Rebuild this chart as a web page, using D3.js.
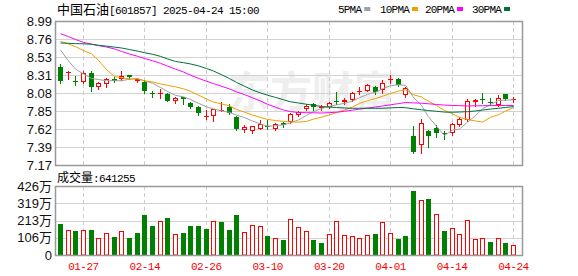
<!DOCTYPE html>
<html>
<head>
<meta charset="utf-8">
<script src="https://cdn.jsdelivr.net/npm/d3@7"></script>
<style>
body { margin: 0; background: #fff; }
svg { display: block; }
</style>
</head>
<body>
<div id="chart"></div>
<script>
// trading days shown (60 candles)
var dates = ["01-22","01-23","01-24","01-27","02-05","02-06","02-07","02-10","02-11","02-12",
    "02-13","02-14","02-17","02-18","02-19","02-20","02-21","02-24","02-25","02-26",
    "02-27","02-28","03-03","03-04","03-05","03-06","03-07","03-10","03-11","03-12",
    "03-13","03-14","03-17","03-18","03-19","03-20","03-21","03-24","03-25","03-26",
    "03-27","03-28","03-31","04-01","04-02","04-03","04-07","04-08","04-09","04-10",
    "04-11","04-14","04-15","04-16","04-17","04-18","04-21","04-22","04-23","04-24"];
var dateTicks = ["01-27","02-14","02-26","03-10","03-20","04-01","04-14","04-24"];

var openP = [8.412,8.345,8.235,8.219,8.337,8.16,8.194,8.253,8.26,8.304,
    8.228,8.223,8.084,8.07,8.067,7.979,8.025,7.95,7.907,7.773,
    7.79,7.86,7.907,7.773,7.612,7.60,7.63,7.668,7.62,7.696,
    7.718,7.802,7.88,7.94,7.887,7.899,7.975,7.97,7.99,8.088,
    8.109,8.16,8.118,8.25,8.253,8.055,7.535,7.419,7.6,7.633,
    7.571,7.571,7.68,7.739,7.97,8.0,7.97,7.928,8.064,7.995];
var highP = [8.447,8.352,8.295,8.362,8.362,8.223,8.27,8.286,8.362,8.311,
    8.265,8.244,8.105,8.134,8.076,8.033,8.033,7.966,7.916,7.865,
    7.874,7.97,7.94,7.79,7.675,7.663,7.739,7.739,7.705,7.713,
    7.823,7.853,7.94,7.95,7.925,7.97,8.09,8.013,8.093,8.152,
    8.194,8.168,8.244,8.307,8.27,8.152,7.663,7.748,7.612,7.675,
    7.6,7.705,7.773,8.008,8.0,8.076,8.013,8.05,8.067,8.025];
var lowP = [8.21,8.253,8.18,8.203,8.109,8.134,8.152,8.215,8.244,8.26,
    8.22,8.084,8.026,8.017,7.975,7.957,7.94,7.89,7.80,7.748,
    7.73,7.855,7.81,7.612,7.59,7.57,7.62,7.62,7.612,7.654,
    7.705,7.79,7.865,7.865,7.865,7.887,7.94,7.94,7.983,8.067,
    8.105,8.067,8.076,8.203,8.168,8.026,7.325,7.325,7.4,7.528,
    7.495,7.553,7.663,7.726,7.916,7.957,7.928,7.916,7.99,7.966];
var closeP = [8.235,8.35,8.222,8.329,8.16,8.21,8.253,8.228,8.295,8.286,
    8.258,8.105,8.076,8.08,7.983,8.021,8.0,7.907,7.823,7.79,
    7.874,7.865,7.823,7.621,7.654,7.66,7.685,7.66,7.688,7.675,
    7.815,7.84,7.916,7.907,7.9,7.957,7.966,7.99,8.076,8.109,
    8.18,8.097,8.21,8.26,8.18,8.139,7.338,7.697,7.54,7.578,
    7.563,7.688,7.751,7.979,7.99,7.995,7.95,8.013,8.0,8.01];
// volume in 万
var volumes = [191,152,148,152,152,103,134,111,146,103,
    136,247,179,208,228,128,136,179,179,160,
    208,204,154,247,142,183,177,117,103,93,
    220,171,146,93,74,128,208,121,115,103,
    121,130,202,134,99,115,395,338,346,251,
    146,165,128,214,97,103,80,103,74,64.13];

var ma5 = [8.623,8.484,8.383,8.32,8.265,8.25,8.235,8.236,8.235,8.254,
    8.263,8.233,8.203,8.15,8.099,8.05,8.032,7.998,7.95,7.906,
    7.879,7.855,7.835,7.8,7.77,7.725,7.689,7.66,7.669,7.678,
    7.703,7.74,7.795,7.845,7.885,7.91,7.93,7.95,7.978,8.02,
    8.062,8.09,8.134,8.171,8.185,8.177,8.025,7.923,7.779,7.658,
    7.543,7.613,7.624,7.712,7.794,7.881,7.933,7.985,7.99,7.994];
var ma10 = [8.733,8.699,8.666,8.615,8.576,8.492,8.375,8.289,8.273,8.257,
    8.259,8.234,8.22,8.195,8.177,8.158,8.133,8.101,8.053,8.004,
    7.966,7.942,7.917,7.871,7.838,7.802,7.77,7.746,7.732,7.721,
    7.715,7.712,7.721,7.75,7.775,7.804,7.832,7.865,7.904,7.948,
    7.984,8.01,8.039,8.075,8.103,8.121,8.058,8.029,7.975,7.922,
    7.86,7.819,7.773,7.745,7.726,7.712,7.773,7.805,7.851,7.894];
var ma20 = [8.829,8.793,8.756,8.72,8.697,8.679,8.661,8.637,8.606,8.573,
    8.544,8.516,8.488,8.455,8.419,8.382,8.345,8.305,8.265,8.229,
    8.198,8.166,8.131,8.095,8.06,8.019,7.979,7.938,7.9,7.865,
    7.845,7.832,7.831,7.83,7.827,7.832,7.837,7.849,7.863,7.877,
    7.889,7.903,7.916,7.931,7.946,7.96,7.955,7.951,7.944,7.935,
    7.927,7.923,7.92,7.916,7.918,7.919,7.92,7.922,7.922,7.923];
var ma30 = [8.712,8.708,8.704,8.702,8.696,8.683,8.672,8.66,8.649,8.629,
    8.61,8.589,8.57,8.543,8.51,8.479,8.463,8.447,8.423,8.39,
    8.358,8.311,8.262,8.214,8.166,8.117,8.081,8.052,8.024,7.995,
    7.969,7.954,7.938,7.925,7.909,7.902,7.897,7.89,7.887,7.887,
    7.887,7.887,7.887,7.892,7.897,7.894,7.88,7.868,7.858,7.849,
    7.839,7.837,7.84,7.844,7.853,7.864,7.877,7.887,7.897,7.908];

var priceLabels = ["7.17","7.39","7.62","7.85","8.08","8.31","8.53","8.76","8.99"];
var volLabels = ["0","106万","213万","319万","426万"];
var maNames = ["5PMA","10PMA","20PMA","30PMA"];
var maColors = ["#a0a0a0","#f0a000","#ff00ff","#00703a"];

var svgWidth = 578, svgHeight = 276;
var plotLeft = 55, plotRight = 522;
var priceTop = 21, priceBottom = 165;
var volTop = 186, volBottom = 255;
var upColor = "#ff0000", downColor = "#008000";
var monoFont = "'Liberation Mono', 'DejaVu Sans Mono', monospace";
var cjkFont = "'Noto Sans CJK SC', sans-serif";
var labelFont = "'Liberation Sans', Arial, sans-serif";

var svg = d3.select("#chart")
    .append("svg")
    .attr("width", svgWidth)
    .attr("height", svgHeight);

var x = d3.scaleBand()
    .domain(dates)
    .range([56.5, 517.3]);
var cx = d => Math.floor(x(d) + x.bandwidth() / 2);

var yPrice = d3.scaleLinear()
    .domain([7.17, 8.99])
    .range([priceBottom, priceTop]);
var yVol = d3.scaleLinear()
    .domain([0, 426])
    .range([volBottom, volTop]);

var priceTickVals = d3.range(9).map(k => 7.17 + k * (8.99 - 7.17) / 8);
var volTickVals = d3.range(5).map(k => k * 426 / 4);

// watermark
svg.append("text")
    .attr("x", 228)
    .attr("y", 107)
    .style("font-family", cjkFont)
    .style("font-size", "42px")
    .style("font-weight", "bold")
    .style("fill", "#eeeeee")
    .text("东方财富");

// grid lines
function hGrid(vals, scale) {
    svg.append("g").selectAll("line")
        .data(vals.slice(1, -1))
        .enter()
        .append("line")
        .attr("x1", plotLeft)
        .attr("x2", plotRight)
        .attr("y1", d => Math.round(scale(d)) + 0.5)
        .attr("y2", d => Math.round(scale(d)) + 0.5)
        .attr("stroke", "#d2d2d2")
        .attr("stroke-width", 1);
}
hGrid(priceTickVals, yPrice);
hGrid(volTickVals, yVol);

[[priceTop, priceBottom], [volTop, volBottom]].forEach(function (p) {
    svg.append("g").selectAll("line")
        .data(dateTicks)
        .enter()
        .append("line")
        .attr("x1", d => cx(d) + 0.5)
        .attr("x2", d => cx(d) + 0.5)
        .attr("y1", p[0])
        .attr("y2", p[1])
        .attr("stroke", "#cccccc")
        .attr("stroke-dasharray", "4,3");
});

// axes
var priceAxis = d3.axisLeft(yPrice)
    .tickValues(priceTickVals)
    .tickFormat((d, i) => priceLabels[i])
    .tickSize(0)
    .tickPadding(3);
var volAxis = d3.axisLeft(yVol)
    .tickValues(volTickVals)
    .tickFormat((d, i) => volLabels[i])
    .tickSize(0)
    .tickPadding(3);
var dateAxis = d3.axisBottom(x)
    .tickValues(dateTicks)
    .tickSize(0)
    .tickPadding(7);

[svg.append("g").attr("transform", `translate(${plotLeft}, 0)`).call(priceAxis),
 svg.append("g").attr("transform", `translate(${plotLeft}, 0)`).call(volAxis)]
    .forEach(function (g) {
        g.select(".domain").remove();
        g.selectAll("text")
            .style("font-family", labelFont + ", " + cjkFont)
            .style("font-size", "13px")
            .style("fill", "#111");
    });

var xg = svg.append("g")
    .attr("transform", `translate(0, ${volBottom})`)
    .call(dateAxis);
xg.select(".domain").remove();
xg.selectAll("text")
    .style("font-family", monoFont)
    .style("font-size", "11px")
    .style("letter-spacing", "-0.5px")
    .style("fill", "#ff0000");

// candles
var rows = dates.map(function (d, i) {
    return { date: d, o: openP[i], h: highP[i], l: lowP[i], c: closeP[i], v: volumes[i],
        up: closeP[i] > openP[i],
        volUp: i === 0 ? closeP[i] > openP[i] : closeP[i] >= closeP[i - 1] };
});

var candles = svg.append("g").selectAll("g")
    .data(rows)
    .enter()
    .append("g");

candles.append("line")
    .attr("x1", d => cx(d.date) + 0.5)
    .attr("x2", d => cx(d.date) + 0.5)
    .attr("y1", d => Math.round(yPrice(d.h)))
    .attr("y2", d => Math.round(yPrice(d.l)) + 1)
    .attr("stroke", d => d.up ? upColor : downColor)
    .attr("stroke-width", 1);

candles.each(function (d) {
    var g = d3.select(this);
    var top = Math.round(yPrice(Math.max(d.o, d.c)));
    var bot = Math.round(yPrice(Math.min(d.o, d.c)));
    if (bot - top < 2) {
        g.append("rect")
            .attr("x", cx(d.date) - 2)
            .attr("y", top)
            .attr("width", 5)
            .attr("height", Math.max(1, bot - top))
            .attr("fill", d.up ? upColor : downColor);
    } else if (d.up) {
        g.append("rect")
            .attr("x", cx(d.date) - 1.5)
            .attr("y", top + 0.5)
            .attr("width", 4)
            .attr("height", bot - top - 1)
            .attr("fill", "#fff")
            .attr("stroke", upColor)
            .attr("stroke-width", 1);
    } else {
        g.append("rect")
            .attr("x", cx(d.date) - 2)
            .attr("y", top)
            .attr("width", 5)
            .attr("height", bot - top)
            .attr("fill", downColor);
    }
});

// moving averages
[ma5, ma10, ma20, ma30].forEach(function (series, k) {
    var line = d3.line()
        .x((d, i) => cx(dates[i]) + 0.5)
        .y(d => yPrice(d));
    svg.append("path")
        .datum(series)
        .attr("d", line)
        .attr("fill", "none")
        .attr("stroke", maColors[k])
        .attr("stroke-width", 1);
});

// volume bars
svg.append("g").selectAll("rect")
    .data(rows)
    .enter()
    .append("rect")
    .attr("x", d => d.volUp ? cx(d.date) - 1.5 : cx(d.date) - 2)
    .attr("y", d => Math.round(yVol(d.v)) + (d.volUp ? 0.5 : 0))
    .attr("width", d => d.volUp ? 4 : 5)
    .attr("height", d => volBottom - Math.round(yVol(d.v)) - (d.volUp ? 0.5 : 0))
    .attr("fill", d => d.volUp ? "#fff" : downColor)
    .attr("stroke", d => d.volUp ? upColor : "none")
    .attr("stroke-width", 1);

// frames
[[priceTop, priceBottom], [volTop, volBottom]].forEach(function (p) {
    svg.append("rect")
        .attr("x", plotLeft + 0.5)
        .attr("y", p[0] + 0.5)
        .attr("width", plotRight - plotLeft)
        .attr("height", p[1] - p[0])
        .attr("fill", "none")
        .attr("stroke", "#999")
        .attr("stroke-width", 1.5);
});

// title
var title = svg.append("text")
    .attr("x", 57)
    .attr("y", 14)
    .style("fill", "#000");
title.append("tspan")
    .style("font-family", cjkFont)
    .style("font-size", "13px")
    .text("中国石油");
title.append("tspan")
    .style("font-family", monoFont)
    .style("font-size", "11px")
    .style("letter-spacing", "-0.6px")
    .text("[601857] 2025-04-24 15:00");

var volTitle = svg.append("text")
    .attr("x", 57)
    .attr("y", 182)
    .style("fill", "#000");
volTitle.append("tspan")
    .style("font-family", cjkFont)
    .style("font-size", "12px")
    .text("成交量");
volTitle.append("tspan")
    .style("font-family", monoFont)
    .style("font-size", "11px")
    .style("letter-spacing", "-0.6px")
    .text(":641255");

// legend
var legendX = [338, 380, 425, 472];
maNames.forEach(function (name, k) {
    var t = svg.append("text")
        .attr("x", legendX[k])
        .attr("y", 13)
        .style("font-family", monoFont)
        .style("font-size", "11px")
        .style("letter-spacing", "-0.8px")
        .style("fill", "#000")
        .text(name);
    var w = t.node().getComputedTextLength();
    svg.append("rect")
        .attr("x", legendX[k] + w + 3)
        .attr("y", 7)
        .attr("width", 6)
        .attr("height", 4)
        .attr("fill", maColors[k]);
});
</script>
</body>
</html>
